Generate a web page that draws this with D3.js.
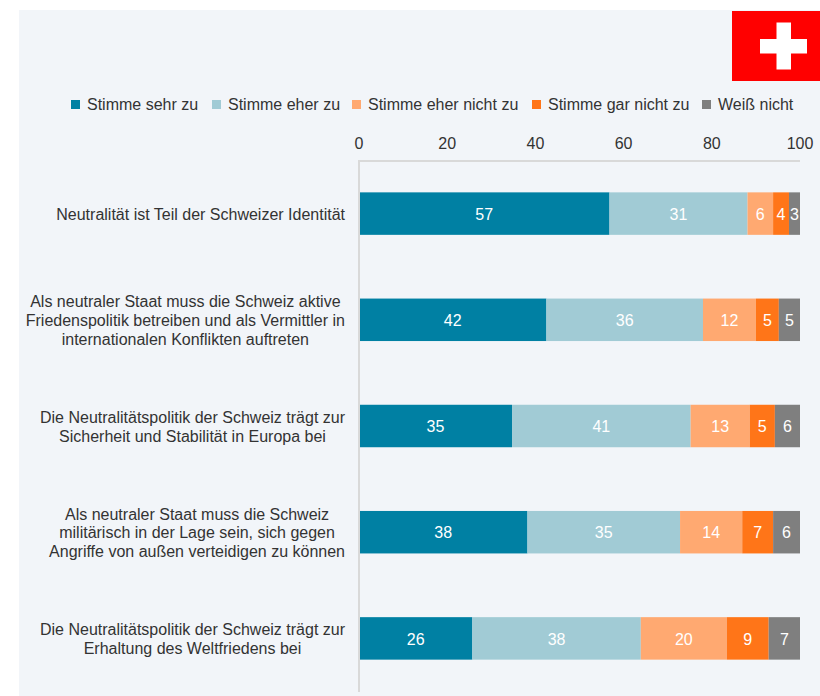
<!DOCTYPE html>
<html><head><meta charset="utf-8">
<script src="https://cdn.jsdelivr.net/npm/d3@7/dist/d3.min.js"></script>
<style>html,body{margin:0;padding:0;background:#fff}svg{display:block}text{font-family:"Liberation Sans",Arial,sans-serif}</style>
</head><body><svg id="c" width="820" height="696"></svg>
<script>
const categories = [
  ["Neutralität ist Teil der Schweizer Identität"],
  ["Als neutraler Staat muss die Schweiz aktive","Friedenspolitik betreiben und als Vermittler in","internationalen Konflikten auftreten"],
  ["Die Neutralitätspolitik der Schweiz trägt zur","Sicherheit und Stabilität in Europa bei"],
  ["Als neutraler Staat muss die Schweiz","militärisch in der Lage sein, sich gegen","Angriffe von außen verteidigen zu können"],
  ["Die Neutralitätspolitik der Schweiz trägt zur","Erhaltung des Weltfriedens bei"]
];
const seriesNames = ["Stimme sehr zu","Stimme eher zu","Stimme eher nicht zu","Stimme gar nicht zu","Weiß nicht"];
const seriesColors = ["#0080A3","#A1CBD5","#FFA971","#FF7518","#7F7F7F"];
const sehrZu = [56.8,42.5,34.7,38.2,25.7];
const eherZu = [31.3,35.5,40.5,34.6,38.2];
const eherNicht = [5.8,12.0,13.4,14.1,19.5];
const garNicht = [3.6,5.2,5.7,7.0,9.5];
const weissNicht = [2.5,4.8,5.7,6.1,7.1];
const labelSehrZu = [57,42,35,38,26];
const labelEherZu = [31,36,41,35,38];
const labelEherNicht = [6,12,13,14,20];
const labelGarNicht = [4,5,5,7,9];
const labelWeissNicht = [3,5,6,6,7];
const xTicks = [0,20,40,60,80,100];

const values = [sehrZu,eherZu,eherNicht,garNicht,weissNicht];
const labels = [labelSehrZu,labelEherZu,labelEherNicht,labelGarNicht,labelWeissNicht];
const textCol = "#333333";
const fs = 16;
const svg = d3.select("#c");
svg.append("rect").attr("x",19).attr("y",10).attr("width",801).attr("height",686).attr("fill","#F2F5F9");

// flag
const flag = svg.append("g");
flag.append("rect").attr("x",732).attr("y",11).attr("width",88).attr("height",70).attr("fill","#FF0000");
flag.append("rect").attr("x",760).attr("y",39).attr("width",47).attr("height",14.5).attr("fill","#fff");
flag.append("rect").attr("x",776.5).attr("y",22.5).attr("width",14.5).attr("height",47).attr("fill","#fff");

const x = d3.scaleLinear().domain([0,100]).range([359,800]);
const y = d3.scaleBand().domain(d3.range(categories.length)).range([160.5,691.5]).paddingInner(0.6).paddingOuter(0.3);

// tick labels
const ax = svg.append("g").attr("transform","translate(-0.5,161)").call(d3.axisTop(x).tickValues(xTicks).tickSize(0).tickPadding(12));
ax.select(".domain").remove();
ax.selectAll("text").attr("font-size",fs).attr("fill",textCol).style("font-family",'"Liberation Sans",Arial,sans-serif');

// bars, values and category labels
categories.forEach((c,i)=>{
  let cum=0;
  values.forEach((s,k)=>{
    const x0=x(cum), x1=x(cum+s[i]); cum+=s[i];
    svg.append("rect").attr("x",x0).attr("y",y(i)).attr("width",x1-x0).attr("height",y.bandwidth()).attr("fill",seriesColors[k]);
    svg.append("text").attr("x",(x0+x1)/2).attr("y",y(i)+y.bandwidth()/2+0.5).attr("dy","0.36em").attr("text-anchor","middle")
      .attr("font-size",fs).attr("fill","#fff").text(labels[k][i]);
  });
  const lh=18.6, cy=y(i)+y.bandwidth()/2+0.5;
  const g=c.map((t,j)=>svg.append("text").attr("y",cy+(j-(c.length-1)/2)*lh).attr("text-anchor","middle")
      .attr("font-size",fs).attr("fill",textCol).attr("dy","0.36em").text(t));
  const w=Math.max(...g.map(e=>e.node().getComputedTextLength()));
  g.forEach(e=>e.attr("x",345-w/2));
});

// axis lines on top of bars
const axisLine = d3.path();
axisLine.moveTo(x(100),161); axisLine.lineTo(359,161); axisLine.lineTo(359,692);
svg.append("path").attr("d",axisLine).attr("fill","none").attr("stroke","#D9D9D9").attr("stroke-width",2);

// legend
const legendX=[71,212,352,532,702];
seriesNames.forEach((s,k)=>{
  svg.append("rect").attr("x",legendX[k]).attr("y",100).attr("width",9).attr("height",9).attr("fill",seriesColors[k]);
  svg.append("text").attr("x",legendX[k]+16).attr("y",104).attr("dy","0.36em").attr("font-size",fs).attr("fill",textCol).text(s);
});
</script></body></html>
